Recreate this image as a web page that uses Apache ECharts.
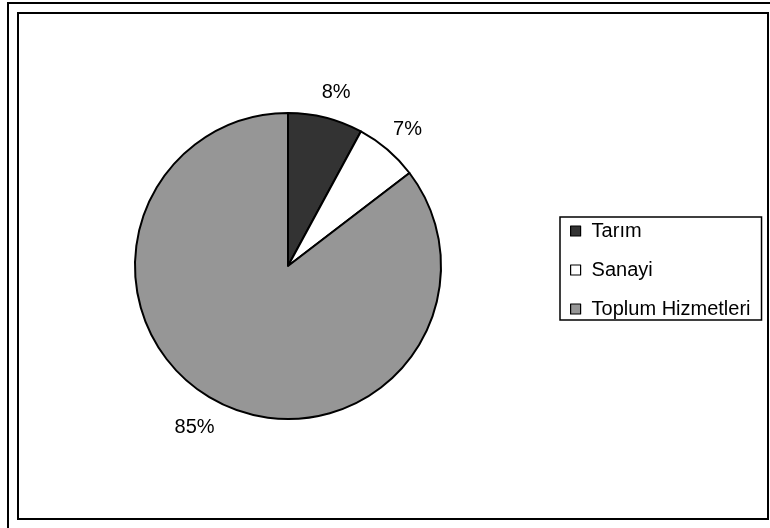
<!DOCTYPE html>
<html>
<head>
<meta charset="utf-8">
<script src="https://cdn.jsdelivr.net/npm/echarts@6/dist/echarts.min.js"></script>
<style>
  html, body { margin: 0; padding: 0; background: #fff; }
  #chart { width: 770px; height: 528px; }
</style>
</head>
<body>
<div id="chart"></div>
<script>
// sektörlere göre dağılım (%)
const categories = ['Tarım', 'Sanayi', 'Toplum Hizmetleri']
const values = [7.9, 6.7, 85.4]
const colors = ['#333333', '#ffffff', '#969696']

const font = 'Liberation Sans, Arial, sans-serif'
// etiketlerin küçük kaydırmaları (Excel yerleşimine yaklaşmak için)
const labelOffsets = [[3, 5], [0, 3], [-12, -3]]

let myChart = echarts.init(document.getElementById('chart'))
let option = {
  backgroundColor: '#fff',
  animation: false,
  graphic: [
    { // dış çerçeve
      type: 'rect',
      shape: { x: 8, y: 3, width: 800, height: 600 },
      style: { fill: 'none', stroke: '#000', lineWidth: 2 },
      silent: true
    },
    { // grafik alanı çerçevesi
      type: 'rect',
      shape: { x: 18, y: 13, width: 750, height: 506 },
      style: { fill: 'none', stroke: '#000', lineWidth: 2 },
      silent: true
    }
  ],
  legend: {
    orient: 'vertical',
    left: 560,
    top: 217,
    data: categories,
    icon: 'rect',
    itemWidth: 10,
    itemHeight: 10,
    itemGap: 19,
    itemStyle: { borderColor: '#000', borderWidth: 1.2 },
    padding: [4, 11, 1, 10],
    borderColor: '#000',
    borderWidth: 1.5,
    textStyle: { color: '#000', fontSize: 20, fontFamily: font, lineHeight: 19, padding: [0, 0, 0, 6] }
  },
  series: [
    {
      name: 'dagilim',
      type: 'pie',
      center: [288, 266],
      radius: 153,
      startAngle: 90,
      clockwise: true,
      silent: true,
      itemStyle: { borderColor: '#000', borderWidth: 2 },
      label: { show: false },
      labelLine: { show: false },
      data: categories.map((name, i) => ({ name: name, value: values[i], itemStyle: { color: colors[i] } }))
    },
    {
      // yüzde etiketleri için görünmez halka
      name: 'etiket',
      type: 'pie',
      center: [288, 266],
      radius: [153, 209],
      startAngle: 90,
      clockwise: true,
      silent: true,
      itemStyle: { color: 'transparent', borderWidth: 0 },
      label: {
        show: true,
        position: 'inside',
        color: '#000',
        fontSize: 20,
        fontFamily: font,
        formatter: (params) => Math.round(params.percent) + '%'
      },
      labelLine: { show: false },
      data: categories.map((name, i) => ({ name: name, value: values[i], label: { offset: labelOffsets[i] } }))
    }
  ]
}
myChart.setOption(option)
</script>
</body>
</html>
